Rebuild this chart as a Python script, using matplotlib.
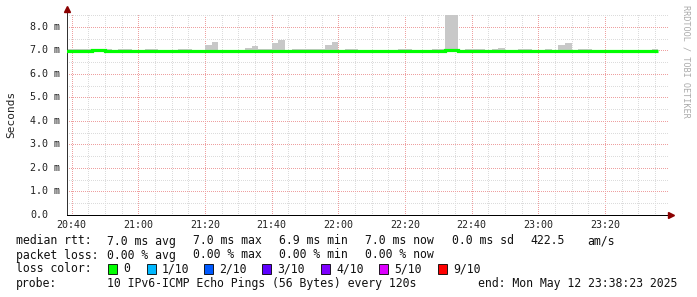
import numpy as np
import matplotlib
matplotlib.use("Agg")
import matplotlib.pyplot as plt
from matplotlib.patches import Rectangle
from matplotlib.transforms import blended_transform_factory

# time axis: minutes after 20:40, one step per 120 s ping round
step_start = np.arange(-2, 176, 2)

# median rtt per step (ms)
median = [6.99, 6.99, 6.98, 6.98, 7.01, 7.01, 6.99, 6.97, 6.97, 6.97,
          6.97, 6.96, 6.96, 6.96, 6.98, 6.98, 6.98, 6.98, 6.98, 6.97,
          6.97, 6.98, 6.99, 6.97, 6.97, 6.97, 6.98, 6.98, 6.98, 6.98,
          6.98, 6.97, 6.97, 6.98, 6.98, 6.97, 6.97, 6.98, 6.99, 6.98,
          6.98, 6.98, 6.98, 6.98, 6.98, 6.98, 6.98, 6.98, 6.97, 6.97,
          6.97, 6.97, 6.97, 6.97, 6.97, 6.97, 6.98, 7.00, 7.00, 6.97,
          6.98, 6.98, 6.98, 6.98, 6.97, 6.97, 6.97, 6.96, 6.96, 6.97,
          6.97, 6.97, 6.99, 6.99, 6.98, 6.98, 6.97, 6.97, 6.98, 6.98,
          6.97, 6.97, 6.97, 6.97, 6.97, 6.97, 6.97, 6.97, 6.98]

# smoke band: lowest and highest ping per step (ms)
smoke_lo = [6.93, 6.93, 6.93, 6.93, 6.95, 6.95, 6.93, 6.92, 6.92, 6.92,
            6.92, 6.89, 6.89, 6.89, 6.92, 6.90, 6.89, 6.89, 6.89, 6.92,
            6.92, 6.92, 6.92, 6.93, 6.93, 6.93, 6.93, 6.93, 6.93, 6.93,
            6.93, 6.92, 6.91, 6.93, 6.93, 6.92, 6.91, 6.93, 6.93, 6.93,
            6.93, 6.93, 6.93, 6.93, 6.93, 6.93, 6.93, 6.93, 6.93, 6.93,
            6.92, 6.89, 6.90, 6.92, 6.92, 6.91, 6.89, 6.93, 6.93, 6.92,
            6.93, 6.93, 6.93, 6.93, 6.92, 6.92, 6.92, 6.92, 6.91, 6.92,
            6.89, 6.92, 6.93, 6.93, 6.93, 6.93, 6.92, 6.92, 6.93, 6.93,
            6.93, 6.93, 6.93, 6.93, 6.93, 6.93, 6.93, 6.93, 6.93]
smoke_hi = [7.07, 7.07, 7.05, 7.07, 7.06, 7.06, 7.04, 7.03, 7.04, 7.04,
            7.03, 7.03, 7.04, 7.04, 7.03, 7.03, 7.03, 7.04, 7.04, 7.03,
            7.03, 7.23, 7.36, 7.03, 7.03, 7.03, 7.03, 7.12, 7.20, 7.07,
            7.07, 7.33, 7.46, 7.03, 7.04, 7.05, 7.04, 7.07, 7.04, 7.23,
            7.36, 7.03, 7.07, 7.07, 7.03, 7.03, 7.03, 7.03, 7.03, 7.03,
            7.04, 7.06, 7.03, 7.03, 7.03, 7.06, 7.07, 8.51, 8.51, 7.03,
            7.07, 7.07, 7.04, 7.03, 7.06, 7.09, 7.03, 7.03, 7.05, 7.05,
            7.03, 7.03, 7.05, 7.03, 7.23, 7.32, 7.03, 7.07, 7.07, 7.03,
            7.03, 7.03, 7.03, 7.03, 7.03, 7.03, 7.02, 7.02, 7.07]

x_ticks = [0, 20, 40, 60, 80, 100, 120, 140, 160]
x_labels = ["20:40", "21:00", "21:20", "21:40", "22:00", "22:20", "22:40", "23:00", "23:20"]
y_ticks = [0, 1, 2, 3, 4, 5, 6, 7, 8]
y_labels = ["0.0", "1.0 m", "2.0 m", "3.0 m", "4.0 m", "5.0 m", "6.0 m", "7.0 m", "8.0 m"]

loss_names = ["0", "1/10", "2/10", "3/10", "4/10", "5/10", "9/10"]
loss_colors = ["#00ff00", "#00b8ff", "#0059ff", "#5e00ff", "#7e00ff", "#dd00ff", "#ff0000"]

W, H = 697, 297
fig = plt.figure(figsize=(W / 100, H / 100), dpi=100)
fig.patch.set_facecolor("white")
ax = fig.add_axes([67 / W, 82 / H, 602 / W, 201 / H])
ax.set_xlim(-1.41, 179.2)
ax.set_ylim(0, 8.55)

# grid, dotted like rrdtool
ax.set_xticks(x_ticks)
ax.set_xticks(np.arange(5, 180, 5), minor=True)
ax.set_yticks(y_ticks)
ax.set_yticks(np.arange(0.5, 8.6, 0.5), minor=True)
ax.grid(which="minor", color="#dcdcdc", linestyle=(0, (1, 2)), linewidth=0.72,
        antialiased=False)
ax.grid(which="major", color="#eea0a0", linestyle=(0, (1, 2)), linewidth=0.72,
        antialiased=False)
ax.set_axisbelow(True)
ax.tick_params(which="both", length=0, labelbottom=False, labelleft=False)
for s in ["top", "right"]:
    ax.spines[s].set_visible(False)
ax.spines["left"].set_color("#333333")
ax.spines["bottom"].set_color("black")
ax.spines["left"].set_linewidth(0.72)
ax.spines["bottom"].set_linewidth(0.72)
ax.spines["left"].set_bounds(0, 8.72)

# smoke and median
lo = np.array(smoke_lo)
hi = np.array(smoke_hi)
ax.bar(step_start, hi - lo, bottom=lo, width=2, align="edge",
       color="#c8c8c8", linewidth=0, zorder=2)
edges = np.append(step_start, step_start[-1] + 2)
ax.stairs(median, edges, baseline=None, color=loss_colors[0],
          linewidth=2.3, zorder=3)

# arrows on axes
ax.plot([0], [1.0 + 5 / 201], marker="^", color="#8b0000", markersize=4,
        transform=ax.transAxes, clip_on=False, zorder=5)
ax.plot([1.0 + 2 / 602], [0], marker=">", color="#8b0000", markersize=4,
        transform=ax.transAxes, clip_on=False, zorder=5)

mono = "DejaVu Sans Mono"
tx = blended_transform_factory(ax.transData, fig.transFigure)
for t, lab in zip(x_ticks, x_labels):
    fig.text(t, 1 - 225 / H, lab, transform=tx, ha="center", va="center",
             family=mono, fontsize=7.2, color="#222222")
ty = blended_transform_factory(fig.transFigure, ax.transData)
for v, lab in zip(y_ticks, y_labels):
    fig.text(30 / W, v, lab, transform=ty, ha="left", va="center",
             family=mono, fontsize=7.2, color="#222222")

fig.text(11 / W, 1 - 114 / H, "Seconds", rotation=90, ha="center", va="center",
         family=mono, fontsize=8, color="#222222")
fig.text(686 / W, 1 - 5 / H, "RRDTOOL / TOBI OETIKER", rotation=270,
         ha="center", va="top", family=mono, fontsize=6.1, color="#aaaaaa")

# legend / statistics
def put(x, y, s):
    fig.text(x / W, 1 - y / H, s, ha="left", va="center", family=mono,
             fontsize=8.3, color="#111111")

put(16, 241, "median rtt:")
for x, s in zip([107, 193, 279, 365, 452, 530, 587],
                ["7.0 ms avg", "7.0 ms max", "6.9 ms min", "7.0 ms now",
                 "0.0 ms sd", "422.5", "am/s"]):
    put(x, 241, s)
put(16, 255, "packet loss:")
for x, s in zip([107, 193, 279, 365],
                ["0.00 % avg", "0.00 % max", "0.00 % min", "0.00 % now"]):
    put(x, 255, s)
put(16, 269, "loss color:")
for bx, name, col in zip([108, 147, 204, 262, 321, 379, 438], loss_names, loss_colors):
    fig.patches.append(Rectangle((bx / W, 1 - 274 / H), 9 / W, 10 / H,
                                 transform=fig.transFigure, facecolor=col,
                                 edgecolor="black", linewidth=0.6))
    put(bx + 15, 269, name)
put(16, 283, "probe:")
put(107, 283, "10 IPv6-ICMP Echo Pings (56 Bytes) every 120s")
put(478, 283, "end: Mon May 12 23:38:23 2025")

fig.savefig("out.png", dpi=100, facecolor="white")
